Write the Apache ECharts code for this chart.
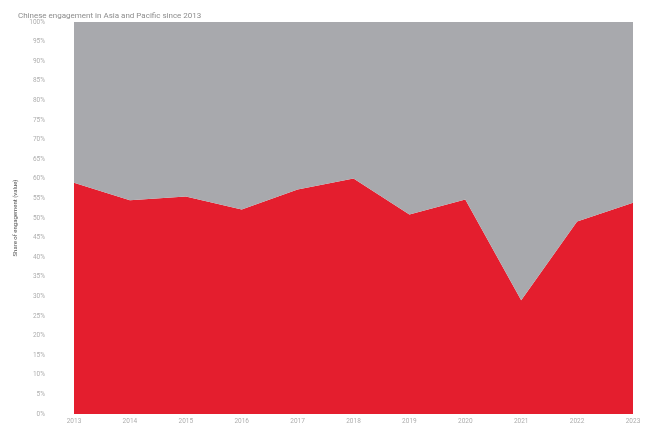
<!DOCTYPE html>
<html>
<head>
<meta charset="utf-8">
<script src="https://cdn.jsdelivr.net/npm/echarts@6/dist/echarts.min.js"></script>
<style>
  html, body { margin: 0; padding: 0; background: #fff; }
  #chart { width: 647px; height: 425px; }
</style>
</head>
<body>
<div id="chart"></div>
<script>
// Years on the horizontal axis
const years = ['2013', '2014', '2015', '2016', '2017', '2018', '2019', '2020', '2021', '2022', '2023'];
// Share of engagement (%) going to investment each year
const investment = [59.0, 54.5, 55.5, 52.2, 57.3, 60.1, 50.9, 54.7, 29.0, 49.1, 53.9];
// Share going to construction: the remainder of 100%
const construction = [41.0, 45.5, 44.5, 47.8, 42.7, 39.9, 49.1, 45.3, 71.0, 50.9, 46.1];

const RED = '#e41e2e';
const GREY = '#a8a9ad';
const FONT = 'Roboto, "Liberation Sans", sans-serif';

const chart = echarts.init(document.getElementById('chart'));
chart.setOption({
  animation: false,
  title: {
    text: 'Chinese engagement in Asia and Pacific since 2013',
    left: 13,
    top: 7,
    textStyle: { fontFamily: FONT, fontSize: 8, fontWeight: 'normal', color: '#8c8c8c' }
  },
  grid: { left: 74, right: 14, top: 22, bottom: 10 },
  xAxis: {
    type: 'category',
    data: years,
    boundaryGap: false,
    axisLine: { show: false },
    axisTick: { show: false },
    axisLabel: { fontFamily: FONT, fontSize: 6.5, color: '#adadad', margin: 4 }
  },
  yAxis: {
    type: 'value',
    min: 0,
    max: 100,
    interval: 5,
    name: 'Share of engagement (value)',
    nameLocation: 'middle',
    nameGap: 51,
    nameTextStyle: { fontFamily: FONT, fontSize: 6, color: '#555' },
    axisLine: { show: false },
    axisTick: { show: false },
    splitLine: { show: false },
    axisLabel: { fontFamily: FONT, fontSize: 6.5, color: '#adadad', margin: 29, formatter: '{value}%' }
  },
  series: [
    {
      name: 'Investment',
      type: 'line',
      stack: 'share',
      data: investment,
      symbol: 'none',
      lineStyle: { width: 0 },
      areaStyle: { color: RED, opacity: 1 }
    },
    {
      name: 'Construction',
      type: 'line',
      stack: 'share',
      data: construction,
      symbol: 'none',
      lineStyle: { width: 0 },
      areaStyle: { color: GREY, opacity: 1 }
    }
  ],
  graphic: [
    {
      type: 'text',
      left: 186,
      top: 284,
      style: { text: 'Investment', fill: '#fff', font: '12px ' + FONT }
    },
    {
      type: 'text',
      left: 446,
      top: 93,
      style: { text: 'Construction', fill: '#fff', font: '12px ' + FONT }
    }
  ]
});
</script>
</body>
</html>
